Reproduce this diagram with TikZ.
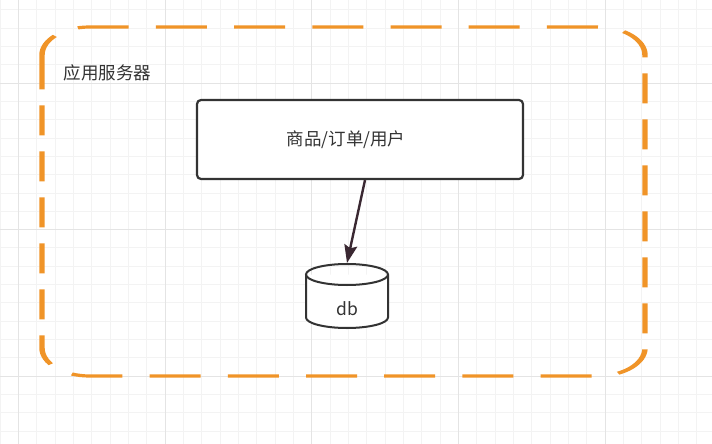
\documentclass[tikz,border=0pt]{standalone}
\usepackage{fontspec}
\setmainfont{Noto Sans CJK SC}
\usetikzlibrary{arrows.meta}
\definecolor{frameorange}{RGB}{240,148,40}
\definecolor{inkgray}{RGB}{51,51,51}
\definecolor{arrowink}{RGB}{58,40,50}
\definecolor{gridminor}{RGB}{243,243,243}
\definecolor{gridmajor}{RGB}{228,228,228}

\begin{document}
\begin{tikzpicture}[x=1pt, y=-1pt, font=\fontsize{17.5}{20}\selectfont, text=inkgray,
  appframe/.style={draw=frameorange, line width=3.2pt, rounded corners=28pt,
    dash pattern=on 30pt off 16pt},
  svcbox/.style={draw=inkgray, line width=2.2pt, rounded corners=4pt, fill=white,
    minimum width=326pt, minimum height=79pt},
  dbarrow/.style={draw=arrowink, line width=2.4pt, -{Stealth[length=18pt, width=13pt, inset=3pt]}},
  cyl/.style={draw=inkgray, line width=2pt}]
\useasboundingbox (0,0) rectangle (712,444);
\fill[white] (0,0) rectangle (712,444);
% background grid
\foreach \i in {0,...,38} {
  \draw[gridminor, line width=1pt] (0.2+18.33*\i,0) -- (0.2+18.33*\i,444);
}
\foreach \j in {0,...,24} {
  \draw[gridminor, line width=1pt] (0,9.7+18.33*\j) -- (712,9.7+18.33*\j);
}
\foreach \i in {0,...,4} {
  \draw[gridmajor, line width=1pt] (18.5+146.67*\i,0) -- (18.5+146.67*\i,444);
}
\foreach \j in {0,...,2} {
  \draw[gridmajor, line width=1pt] (0,83.3+146.67*\j) -- (712,83.3+146.67*\j);
}

% frame of the app server, stretched sideways like the reference
\begin{scope}[transform canvas={xscale=1.7}]
\draw[appframe] (24.7,92) -- (24.7,27) -- (379.4,27) -- (379.4,376) -- (24.7,376) -- cycle;
\end{scope}
\node[anchor=west] (appname) at (60,73) {应用服务器};
\node[svcbox] (svc) at (360,139.5) {商品/订单/用户\kern28pt};

% db cylinder
\fill[white] (306,274.5) -- (306,317.5) arc[start angle=180, end angle=0, x radius=41, y radius=10.5] -- (388,274.5) -- cycle;
\draw[cyl] (306,274.5) -- (306,317.5) arc[start angle=180, end angle=0, x radius=41, y radius=10.5] -- (388,274.5);
\draw[cyl] (347,274.5) ellipse[x radius=41, y radius=10.5];
\node (db) at (347,309) {db};
\coordinate (dbtop) at (347,263);

\draw[dbarrow] ([xshift=5pt]svc.south) -- (dbtop);
\end{tikzpicture}
\end{document}
